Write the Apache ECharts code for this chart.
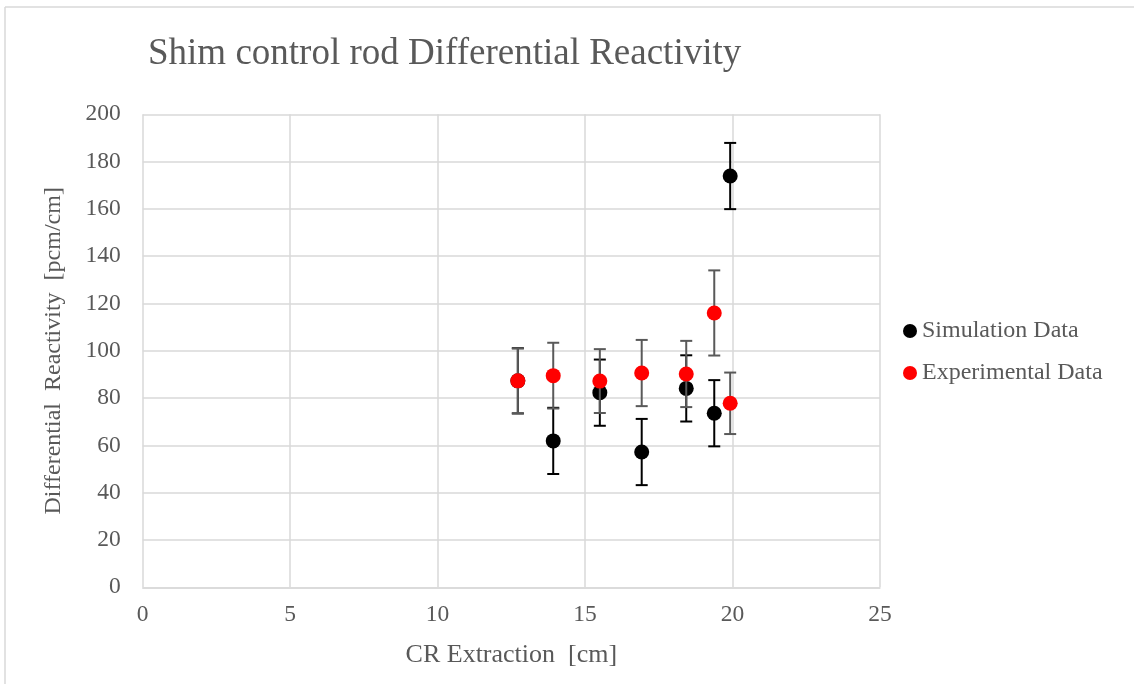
<!DOCTYPE html>
<html><head><meta charset="utf-8">
<script src="https://cdn.jsdelivr.net/npm/echarts@6/dist/echarts.min.js"></script>
<style>html,body{margin:0;padding:0;background:#fff}#c{width:1134px;height:684px}</style>
</head><body><div id="c"></div>
<script>
const xValues = [12.72, 13.92, 15.50, 16.92, 18.43, 19.38, 19.92];
const expX = [12.72, 13.92, 15.50, 16.92, 18.43, 19.92, 19.38];
const simY = [87.3, 61.9, 82.3, 57.2, 84.1, 73.6, 173.9];
const simErr = [13.8, 14, 14, 14, 14, 14, 14];
const expY = [87.3, 89.5, 87.2, 90.6, 90.2, 77.8, 116.0];
const expErr = [13.7, 13.9, 13.5, 14, 14, 13, 18];
const xTicks = [0, 5, 10, 15, 20, 25];
const yTicks = [0, 20, 40, 60, 80, 100, 120, 140, 160, 180, 200];

const font = "'Liberation Serif','Times New Roman',serif";
const txt = '#595959';

function errData(xs, ys, es){ return xs.map((x,i)=>[x, ys[i]-es[i], ys[i]+es[i]]); }
function errRender(color){
  return function(params, api){
    const x = api.value(0), lo = api.value(1), hi = api.value(2);
    const pLo = api.coord([x, lo]), pHi = api.coord([x, hi]);
    const w = 6;
    const st = {stroke: color, lineWidth: 2};
    return {type:'group', children:[
      {type:'line', shape:{x1:pLo[0], y1:pLo[1], x2:pHi[0], y2:pHi[1]}, style:st},
      {type:'line', shape:{x1:pLo[0]-w, y1:pLo[1], x2:pLo[0]+w, y2:pLo[1]}, style:st},
      {type:'line', shape:{x1:pHi[0]-w, y1:pHi[1], x2:pHi[0]+w, y2:pHi[1]}, style:st}
    ]};
  };
}

const chart = echarts.init(document.getElementById('c'), null, {renderer:'canvas'});
chart.setOption({
  animation:false,
  backgroundColor:'#fff',
  title:{text:'Shim control rod Differential Reactivity', left:143, top:31,
    textStyle:{fontFamily:font, fontSize:37, fontWeight:'normal', color:txt}},
  legend:{orient:'vertical', left:898, top:314, itemGap:18, itemWidth:14, itemHeight:14,
    icon:'circle', textStyle:{fontFamily:font, fontSize:24, color:txt},
    data:['Simulation Data','Experimental Data']},
  grid:{left:142.7, right:254, top:114.3, bottom:96.7, containLabel:false},
  xAxis:{type:'value', min:0, max:25, interval:5,
    name:'CR Extraction  [cm]', nameLocation:'middle', nameGap:55,
    nameTextStyle:{fontFamily:font, fontSize:26, color:txt},
    axisLine:{show:true, lineStyle:{color:'#d9d9d9', width:1.5}},
    axisTick:{show:false},
    axisLabel:{fontFamily:font, fontSize:23.5, color:txt, margin:16},
    splitLine:{show:true, lineStyle:{color:'#d9d9d9', width:1.5}}},
  yAxis:{type:'value', min:0, max:200, interval:20,
    name:'Differential  Reactivity  [pcm/cm]', nameLocation:'middle', nameGap:77,
    nameTextStyle:{fontFamily:font, fontSize:24, color:txt},
    axisLine:{show:false}, axisTick:{show:false},
    axisLabel:{fontFamily:font, fontSize:23.5, color:txt, margin:22},
    splitLine:{show:true, lineStyle:{color:'#d9d9d9', width:1.5}}},
  graphic:[
    {type:'line', shape:{x1:5, y1:7, x2:1134, y2:7}, style:{stroke:'#d9d9d9', lineWidth:1.5}},
    {type:'line', shape:{x1:5, y1:7, x2:5, y2:684}, style:{stroke:'#d9d9d9', lineWidth:1.5}}
  ],
  series:[
    {name:'simErr', type:'custom', renderItem:errRender('#000'), data:errData(xValues, simY, simErr), z:2, silent:true},
    {name:'Simulation Data', type:'scatter', symbolSize:15, itemStyle:{color:'#000', opacity:1},
      data:xValues.map((x,i)=>[x, simY[i]]), z:3},
    {name:'expErr', type:'custom', renderItem:errRender('#595959'), data:errData(expX, expY, expErr), z:4, silent:true},
    {name:'Experimental Data', type:'scatter', symbolSize:15, itemStyle:{color:'#ff0000', opacity:1},
      data:expX.map((x,i)=>[x, expY[i]]), z:5}
  ]
});
</script></body></html>
